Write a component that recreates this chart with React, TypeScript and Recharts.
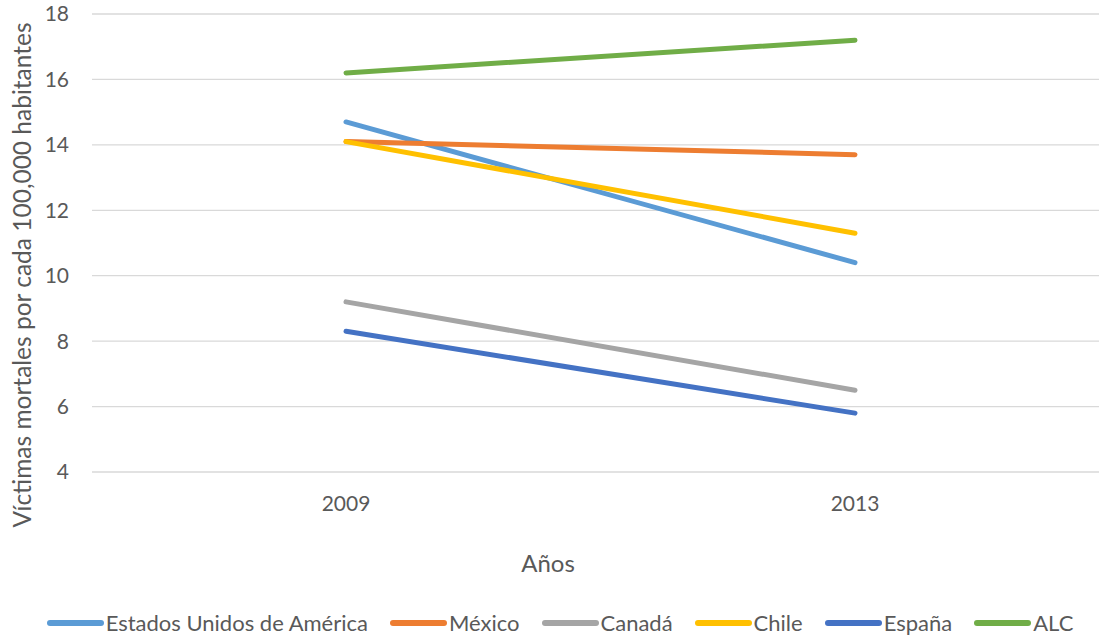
import React from 'react';
import { LineChart, Line, XAxis, YAxis, CartesianGrid, Legend } from 'recharts';

// Años y tasas por país / región
const years = ['2009', '2013'];
const estadosUnidos = [14.7, 10.4];
const mexico = [14.1, 13.7];
const canada = [9.2, 6.5];
const chile = [14.1, 11.3];
const espana = [8.3, 5.8];
const alc = [16.2, 17.2];
const yTicks = [4, 6, 8, 10, 12, 14, 16, 18];

const seriesDefs = [
  { key: 'Estados Unidos de América', values: estadosUnidos, color: '#5B9BD5' },
  { key: 'México', values: mexico, color: '#ED7D31' },
  { key: 'Canadá', values: canada, color: '#A5A5A5' },
  { key: 'Chile', values: chile, color: '#FFC000' },
  { key: 'España', values: espana, color: '#4472C4' },
  { key: 'ALC', values: alc, color: '#70AD47' },
];

const data = years.map((year, i) => {
  const row: Record<string, string | number> = { year };
  seriesDefs.forEach((s) => {
    row[s.key] = s.values[i];
  });
  return row;
});

const FONT = 'Lato, "Open Sans", sans-serif';
const TEXT = '#595959';

const LegendContent = () => (
  <div
    style={{
      display: 'flex',
      justifyContent: 'center',
      alignItems: 'center',
      width: 1142,
      fontFamily: FONT,
      fontSize: 22,
      color: TEXT,
    }}
  >
    {seriesDefs.map((s) => (
      <div key={s.key} style={{ display: 'flex', alignItems: 'center', marginRight: 22 }}>
        <svg width={57} height={10}>
          <line x1={3} y1={5} x2={54} y2={5} stroke={s.color} strokeWidth={6} strokeLinecap="round" />
        </svg>
        <span style={{ marginLeft: 2 }}>{s.key}</span>
      </div>
    ))}
  </div>
);

export default function App() {
  return (
    <div style={{ position: 'absolute', left: 0, top: 0, width: 1099, height: 638, overflow: 'hidden', background: '#fff' }}>
      <LineChart width={1110} height={638} data={data} margin={{ top: 14, right: 0, bottom: 0, left: 0 }}>
        <CartesianGrid vertical={false} stroke="#d9d9d9" strokeWidth={1.3} />
        <XAxis
          dataKey="year"
          axisLine={false}
          tickLine={false}
          tickSize={0}
          tickMargin={24}
          height={166}
          padding={{ left: 254, right: 255 }}
          tick={{ fill: TEXT, fontSize: 21, fontFamily: FONT }}
          label={{
            content: () => (
              <text x={548} y={562} textAnchor="middle" dominantBaseline="central" fill={TEXT} fontSize={24} fontFamily={FONT}>
                Años
              </text>
            ),
          }}
        />
        <YAxis
          domain={[4, 18]}
          ticks={yTicks}
          axisLine={false}
          tickLine={false}
          tickSize={0}
          tickMargin={23}
          width={92}
          tick={{ fill: TEXT, fontSize: 21, fontFamily: FONT }}
          label={{
            content: () => (
              <text
                x={31}
                y={275}
                transform="rotate(-90 31 275)"
                textAnchor="middle"
                fill={TEXT}
                fontSize={24.5}
                fontFamily={FONT}
              >
                Víctimas mortales por cada 100,000 habitantes
              </text>
            ),
          }}
        />
        <Legend
          content={<LegendContent />}
          wrapperStyle={{ position: 'absolute', left: 0, top: 609, width: 1142, height: 0 }}
        />
        {seriesDefs.map((s) => (
          <Line
            key={s.key}
            dataKey={s.key}
            stroke={s.color}
            strokeWidth={5}
            strokeLinecap="round"
            dot={false}
            activeDot={false}
            isAnimationActive={false}
          />
        ))}
      </LineChart>
    </div>
  );
}
